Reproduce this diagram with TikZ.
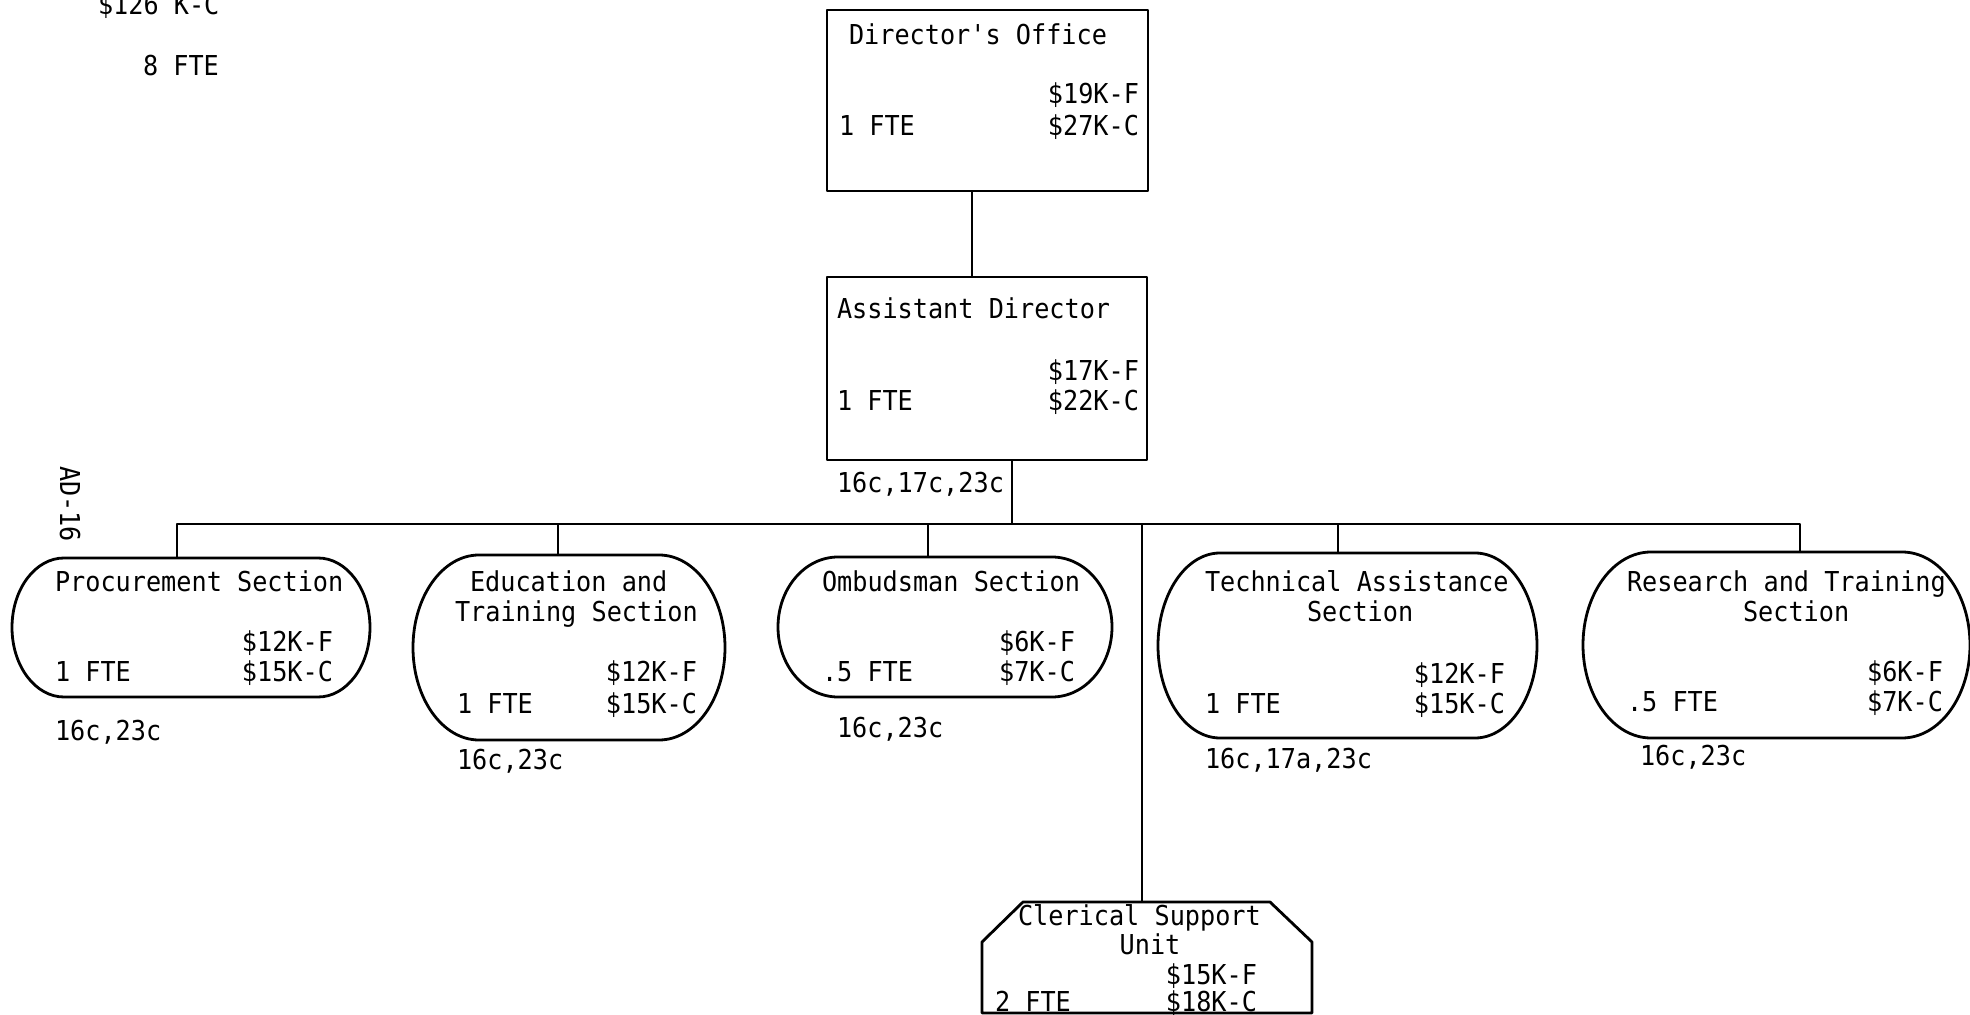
\documentclass[tikz,border=0pt]{standalone}
\usepackage{fontspec}
\newfontfamily\typew[FakeStretch=0.92,Ligatures=TeXOff]{DejaVu Sans Mono}
\newcommand\drawpill[3]{\draw[ln] ([xshift=#2]#1.north west) -- ([xshift=-#2]#1.north east)
  arc[start angle=90,end angle=-90,x radius=#2,y radius=#3]
  -- ([xshift=#2]#1.south west)
  arc[start angle=-90,end angle=-270,x radius=#2,y radius=#3] -- cycle;}
\begin{document}
\begin{tikzpicture}[x=0.5pt,y=-0.5pt,
  ln/.style={line width=1.4pt,line join=round},
  sqbox/.style={draw,ln,rectangle,inner sep=0pt,outer sep=0pt},
  pillarea/.style={rectangle,inner sep=0pt,outer sep=0pt},
  tw/.style={inner sep=0pt,outer sep=0pt,font=\typew\fontsize{13.7}{16}\selectfont},
  tl/.style={tw,anchor=base west},
  tr/.style={tw,anchor=base east}]
\useasboundingbox (0,0) rectangle (1970,1015);
\clip (0,0) rectangle (1970,1015);

% shapes
\node[sqbox,minimum width=160.5pt,minimum height=90.5pt] (dir) at (987.5,100.5) {};
\node[sqbox,minimum width=160pt,minimum height=91.5pt] (ast) at (987,368.5) {};
\node[pillarea,minimum width=179pt,minimum height=69.5pt] (proc) at (191,627.5) {};
\node[pillarea,minimum width=156pt,minimum height=92.5pt] (edu) at (569,647.5) {};
\node[pillarea,minimum width=167pt,minimum height=70pt] (omb) at (945,627) {};
\node[pillarea,minimum width=189.5pt,minimum height=92.5pt] (tech) at (1347.5,645.5) {};
\node[pillarea,minimum width=193.5pt,minimum height=93pt] (res) at (1776.5,645) {};
\drawpill{proc}{26pt}{34.75pt}
\drawpill{edu}{33pt}{46.25pt}
\drawpill{omb}{30pt}{35pt}
\drawpill{tech}{31pt}{46.25pt}
\drawpill{res}{34pt}{46.5pt}
\node[inner sep=0pt,outer sep=0pt,minimum width=165pt,minimum height=55.5pt] (cler) at (1147,957.5) {};
\draw[ln] (cler.south west) -- ([yshift=-20pt]cler.north west) -- ([xshift=20.5pt]cler.north west)
  -- ([xshift=-21pt]cler.north east) -- ([yshift=-20pt]cler.north east) -- (cler.south east) -- cycle;

% connector coordinates
\coordinate (bus) at (0,524);
\coordinate (dx) at (972,0);
\coordinate (ax) at (1012,0);
\coordinate (px) at (177,0);
\coordinate (ex) at (558,0);
\coordinate (ox) at (928,0);
\coordinate (cx) at (1142,0);
\coordinate (tx) at (1338,0);
\coordinate (rx) at (1800,0);

\draw[ln] (dir.south -| dx) -- (ast.north -| dx);
\draw[ln] (ast.south -| ax) -- (ax |- bus);
\draw[ln] (proc.north -| px) -- (px |- bus) -- (rx |- bus) -- (res.north -| rx);
\draw[ln] (ex |- bus) -- (edu.north -| ex);
\draw[ln] (ox |- bus) -- (omb.north -| ox);
\draw[ln] (cx |- bus) -- (cler.north -| cx);
\draw[ln] (tx |- bus) -- (tech.north -| tx);

% top-left totals
\node[tl] (tot1) at (98,15) {\$126 K-C};
\node[tl] (tot2) at (143,76) {8 FTE};
\node[tw,rotate=-90] (ad) at (70,504) {AD-16};

% Director
\node[tl] (dirT) at (849,45) {Director's Office};
\node[tr] (dirF) at (1139,104) {\$19K-F};
\node[tl] (dirE) at (839,136) {1 FTE};
\node[tr] (dirC) at (1139,136) {\$27K-C};

% Assistant
\node[tl] (astT) at (837,319) {Assistant Director};
\node[tr] (astF) at (1139,381) {\$17K-F};
\node[tl] (astE) at (837,411) {1 FTE};
\node[tr] (astC) at (1139,411) {\$22K-C};
\node[tl] (astN) at (837,493) {16c,17c,23c};

% Procurement
\node[tl] (procT) at (55,592) {Procurement Section};
\node[tr] (procF) at (333,652) {\$12K-F};
\node[tl] (procE) at (55,682) {1 FTE};
\node[tr] (procC) at (333,682) {\$15K-C};
\node[tl] (procN) at (55,740) {16c,23c};

% Education
\node[tl] (eduT1) at (470,592) {Education and};
\node[tl] (eduT2) at (455,621) {Training Section};
\node[tr] (eduF) at (697,682) {\$12K-F};
\node[tl] (eduE) at (457,713) {1 FTE};
\node[tr] (eduC) at (697,713) {\$15K-C};
\node[tl] (eduN) at (457,769) {16c,23c};

% Ombudsman
\node[tl] (ombT) at (822,592) {Ombudsman Section};
\node[tr] (ombF) at (1075,652) {\$6K-F};
\node[tl] (ombE) at (822,682) {.5 FTE};
\node[tr] (ombC) at (1075,682) {\$7K-C};
\node[tl] (ombN) at (837,737) {16c,23c};

% Technical
\node[tl] (techT1) at (1205,592) {Technical Assistance};
\node[tl] (techT2) at (1307,621) {Section};
\node[tr] (techF) at (1505,683) {\$12K-F};
\node[tl] (techE) at (1205,713) {1 FTE};
\node[tr] (techC) at (1505,713) {\$15K-C};
\node[tl] (techN) at (1205,768) {16c,17a,23c};

% Research
\node[tl] (resT1) at (1627,592) {Research and Training};
\node[tl] (resT2) at (1743,621) {Section};
\node[tr] (resF) at (1943,681) {\$6K-F};
\node[tl] (resE) at (1627,711) {.5 FTE};
\node[tr] (resC) at (1943,711) {\$7K-C};
\node[tl] (resN) at (1640,765) {16c,23c};

% Clerical
\node[tl] (clT1) at (1018,925) {Clerical Support};
\node[tw,anchor=base] (clT2) at (1150,954) {Unit};
\node[tr] (clF) at (1257,984) {\$15K-F};
\node[tl] (clE) at (995,1011) {2 FTE};
\node[tr] (clC) at (1257,1011) {\$18K-C};
\end{tikzpicture}
\end{document}
